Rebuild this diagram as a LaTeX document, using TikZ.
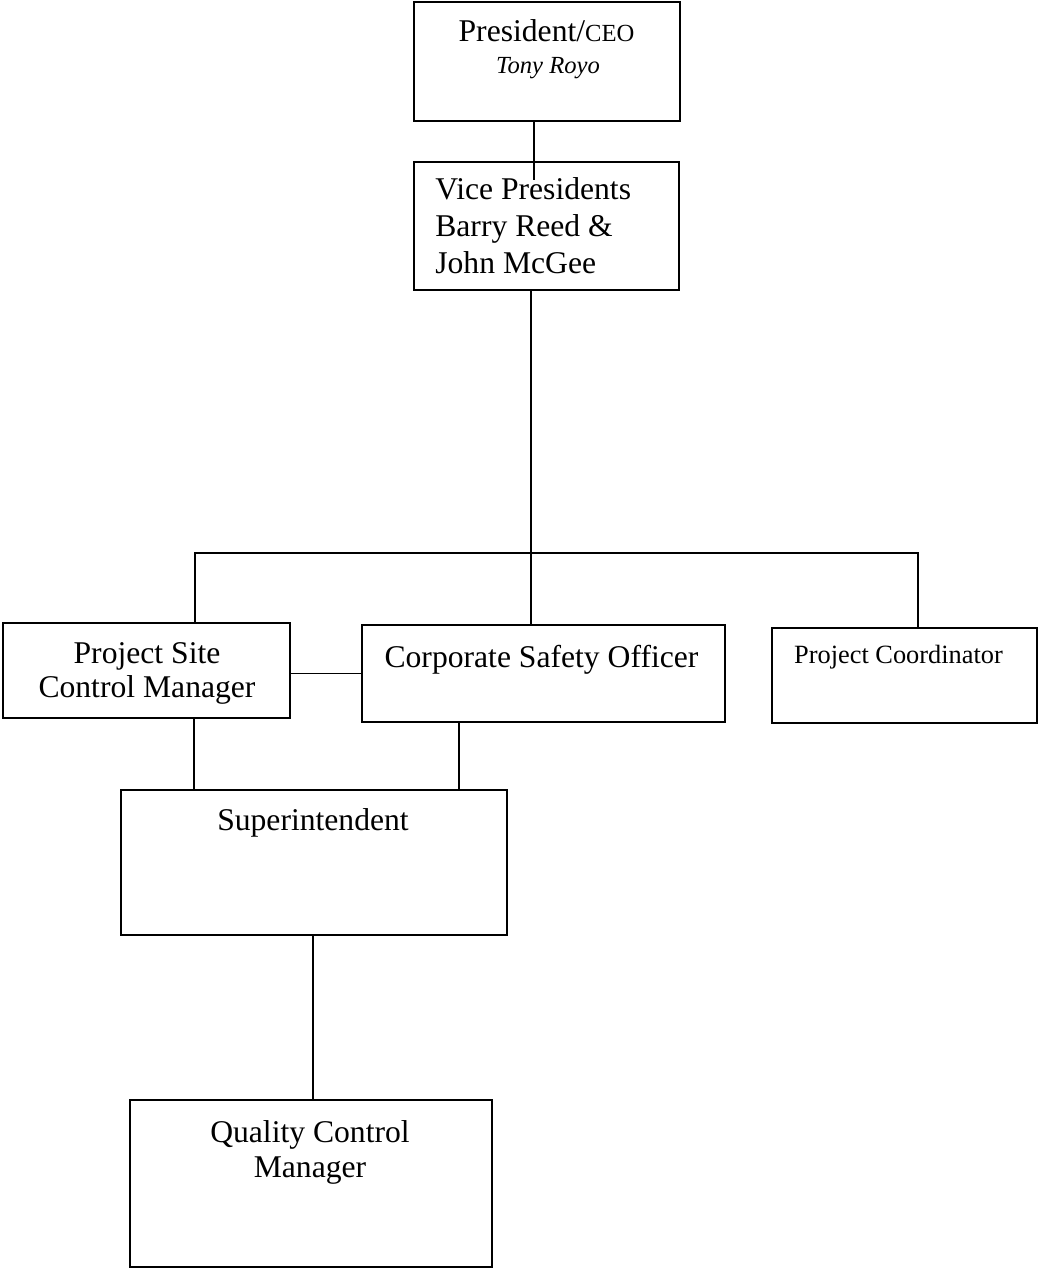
\documentclass[tikz,border=0pt]{standalone}
\usepackage{fontspec}
\setmainfont{Liberation Serif}
\usetikzlibrary{positioning}

\begin{document}
\begin{tikzpicture}[
  every node/.style={font=\fontsize{18}{21}\selectfont},
  post/.style={rectangle, draw=black, line width=1pt, fill=none, inner sep=0pt},
  caption/.style={inner sep=0pt, align=center, anchor=base},
  small/.style={inner sep=0pt, anchor=base, font=\fontsize{14}{17}\selectfont},
  link/.style={-, line width=0.9pt, black},
]
\useasboundingbox (0,0) rectangle (20.78,-25.4);

% ---- top: president and vice presidents ----
\node[post, minimum width=5.32cm, minimum height=2.38cm] (ceo) at (10.94, -1.23) {};
\node[post, minimum width=5.30cm, minimum height=2.56cm] (vp)  at (10.93, -4.52) {};

% ---- middle row ----
\node[post, minimum width=5.74cm, minimum height=1.90cm] (pscm) at (2.93, -13.41) {};
\node[post, minimum width=7.26cm, minimum height=1.94cm] (cso)  at (10.87, -13.47) {};
\node[post, minimum width=5.30cm, minimum height=1.90cm] (pc)   at (18.09, -13.51) {};

% ---- lower boxes ----
\node[post, minimum width=7.72cm, minimum height=2.90cm] (sup) at (6.28, -17.25) {};
\node[post, minimum width=7.24cm, minimum height=3.34cm] (qcm) at (6.22, -23.67) {};

% ---- box texts (multi-line ones sit on the baseline of their last line) ----
\node[caption] (ceo-title) at (10.93, -0.84) {President/{\fontsize{14}{17}\selectfont CEO}};
\node[small, font=\fontsize{14}{17}\selectfont\itshape] (ceo-name) at (10.96, -1.46) {Tony Royo};
\node[caption, align=left, anchor=base west] (vp-t) at (8.70, -5.46)
  {Vice Presidents\\Barry Reed \&\\John McGee};
\node[caption, font=\fontsize{18}{19.3}\selectfont] (pscm-t) at (2.94, -13.94) {Project Site\\Control Manager};
\node[caption] (cso-t) at (10.83, -13.34) {Corporate Safety Officer};
\node[small, font=\fontsize{15}{18}\selectfont] (pc-t) at (17.97, -13.26) {Project Coordinator};
\node[caption] (sup-t) at (6.26, -16.6) {Superintendent};
\node[caption, font=\fontsize{18}{19.8}\selectfont] (qcm-t) at (6.2, -23.54) {Quality Control\\Manager};

% ---- junction points ----
\coordinate (vpstub) at (10.68, -3.6);
\coordinate (bus)    at (10.62, -11.06);
\coordinate (busl)   at (3.9, -11.06);
\coordinate (busr)   at (18.36, -11.06);

% ---- connectors ----
\draw[link] (ceo.south -| vpstub) -- (vpstub);
\draw[link] (vp.south -| bus) -- (cso.north -| bus);
\draw[link] (pscm.north -| busl) -- (busl) -- (busr) -- (pc.north -| busr);
\draw[link] (pscm.east |- cso.west) -- (cso.west);
\draw[link] (pscm.south -| 3.88,0) -- (sup.north -| 3.88,0);
\draw[link] (cso.south -| 9.18,0) -- (sup.north -| 9.18,0);
\draw[link] (sup.south -| 6.26,0) -- (qcm.north -| 6.26,0);

\end{tikzpicture}
\end{document}
